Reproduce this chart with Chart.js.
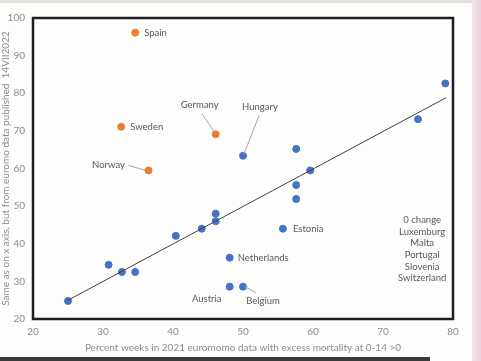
<!DOCTYPE html>
<html>
<head>
<meta charset="utf-8">
<script src="https://cdn.jsdelivr.net/npm/chart.js@4.4.1/dist/chart.umd.min.js"></script>
<style>
  html, body { margin:0; padding:0; background:#fff; }
  #wrap { position:relative; width:481px; height:361px; overflow:hidden; background:#fdfdfc; }
  #topStrip { position:absolute; left:0; top:0; width:481px; height:3px; background:#e6e1d9; }
  #rightStrip { position:absolute; right:0; top:0; width:9px; height:361px; background:linear-gradient(90deg,#efe6e6,#e9d3df); }
  #botStrip { position:absolute; left:0; bottom:0; width:430px; height:4px; background:#3b3b3b; }
  canvas { position:absolute; left:0; top:0; }
</style>
</head>
<body>
<div id="wrap">
  <div id="topStrip"></div>
  <div id="rightStrip"></div>
  <div id="botStrip"></div>
  <canvas id="c" width="481" height="361"></canvas>
</div>
<script>
// datos
const blueX = [78.9, 75.0, 57.6, 59.6, 57.6, 57.6, 50.0, 46.1, 46.1, 44.1, 55.7, 40.4, 48.1, 30.8, 32.7, 34.6, 48.1, 50.0, 25.0];
const blueY = [82.6, 73.1, 65.2, 59.5, 55.6, 51.9, 63.4, 48.0, 46.0, 44.0, 44.0, 42.1, 36.3, 34.4, 32.5, 32.5, 28.6, 28.6, 24.8];
const blueNames = ["", "", "", "", "", "", "Hungary", "", "", "", "Estonia", "", "Netherlands", "", "", "", "Austria", "Belgium", ""];

const orangeX = [34.6, 32.6, 46.1, 36.5];
const orangeY = [96.1, 71.1, 69.1, 59.5];
const orangeNames = ["Spain", "Sweden", "Germany", "Norway"];

const trendX = [25, 79];
const trendY = [25.0, 78.8];

const zeroChange = ["0 change", "Luxemburg", "Malta", "Portugal", "Slovenia", "Switzerland"];

const xTitle = "Percent weeks in 2021 euromomo data with excess mortality at 0-14 >0";
const yTitle = "Same as on x axis, but from euromo data published  14VII2022";

// estilo de etiquetas (px relativos al punto)
const labelStyle = {
  Spain:       { dx: 9,   dy: 0,   align: "left" },
  Sweden:      { dx: 9,   dy: 0,   align: "left" },
  Germany:     { dx: -16, dy: -29, align: "center", lead: [-14, -21, -2, -3] },
  Norway:      { dx: -40, dy: -5,  align: "center", lead: [-20, -5, -3, 0] },
  Hungary:     { dx: 17,  dy: -49, align: "center", lead: [16, -40, 1, -2] },
  Estonia:     { dx: 10,  dy: 0,   align: "left" },
  Netherlands: { dx: 8,   dy: 0,   align: "left" },
  Austria:     { dx: -23, dy: 12,  align: "center" },
  Belgium:     { dx: 20,  dy: 14,  align: "center", lead: [2, 0, 13, 6] }
};

const FONT = "Lato, 'Open Sans', sans-serif";
const toPts = (xs, ys) => xs.map((x, i) => ({ x, y: ys[i] }));

const labelsPlugin = {
  id: "labels",
  beforeDatasetsDraw(chart) {
    const { ctx, chartArea: a } = chart;
    ctx.save();
    ctx.strokeStyle = "#1e1e1e";
    ctx.lineWidth = 2.5;
    ctx.strokeRect(a.left, a.top, a.right - a.left, a.bottom - a.top);
    ctx.restore();
  },
  afterDatasetsDraw(chart) {
    const { ctx, scales } = chart;
    ctx.save();
    ctx.font = "9.5px " + FONT;
    ctx.fillStyle = "#595959";
    ctx.textBaseline = "middle";
    const put = (names, xs, ys) => {
      names.forEach((n, i) => {
        if (!n) return;
        const s = labelStyle[n];
        const px = scales.x.getPixelForValue(xs[i]);
        const py = scales.y.getPixelForValue(ys[i]);
        if (s.lead) {
          ctx.beginPath();
          ctx.strokeStyle = "#a6a6a6";
          ctx.lineWidth = 1;
          ctx.moveTo(px + s.lead[0], py + s.lead[1]);
          ctx.lineTo(px + s.lead[2], py + s.lead[3]);
          ctx.stroke();
        }
        ctx.textAlign = s.align;
        ctx.fillText(n, px + s.dx, py + s.dy);
      });
    };
    put(orangeNames, orangeX, orangeY);
    put(blueNames, blueX, blueY);
    // bloque "0 change"
    ctx.textAlign = "center";
    const cx = scales.x.getPixelForValue(75.6);
    zeroChange.forEach((t, i) => {
      ctx.fillText(t, cx, scales.y.getPixelForValue(46.3) + i * 11.6);
    });
    ctx.restore();
  }
};

new Chart(document.getElementById("c"), {
  type: "scatter",
  data: {
    datasets: [
      {
        label: "trend",
        data: toPts(trendX, trendY),
        showLine: true,
        borderColor: "#404040",
        borderWidth: 1,
        pointRadius: 0
      },
      {
        label: "blue",
        data: toPts(blueX, blueY),
        backgroundColor: "#4472c4",
        borderColor: "#4472c4",
        pointRadius: 3.5
      },
      {
        label: "orange",
        data: toPts(orangeX, orangeY),
        backgroundColor: "#ed7d31",
        borderColor: "#ed7d31",
        pointRadius: 3.5
      }
    ]
  },
  options: {
    responsive: false,
    animation: false,
    layout: { padding: { top: 18, right: 28, bottom: 3, left: 0 } },
    plugins: { legend: { display: false }, tooltip: { enabled: false } },
    scales: {
      x: {
        type: "linear",
        min: 20, max: 80,
        ticks: { stepSize: 10, color: "#8c8c8c", padding: 7, font: { family: FONT, size: 10 } },
        grid: { display: false, drawTicks: false },
        border: { display: false },
        title: { display: true, text: xTitle, color: "#8c8c8c", padding: { top: 4, bottom: 4 }, font: { family: FONT, size: 10 } },
        afterFit(scale) { scale.height = 39; }
      },
      y: {
        type: "linear",
        min: 20, max: 100,
        ticks: { stepSize: 10, color: "#8c8c8c", padding: 8, font: { family: FONT, size: 10 } },
        grid: { display: false, drawTicks: false },
        border: { display: false },
        title: { display: true, text: yTitle, color: "#8c8c8c", padding: { top: 0, bottom: 0 }, font: { family: FONT, size: 10 } },
        afterFit(scale) { scale.width = 33; }
      }
    }
  },
  plugins: [labelsPlugin]
});
</script>
</body>
</html>
